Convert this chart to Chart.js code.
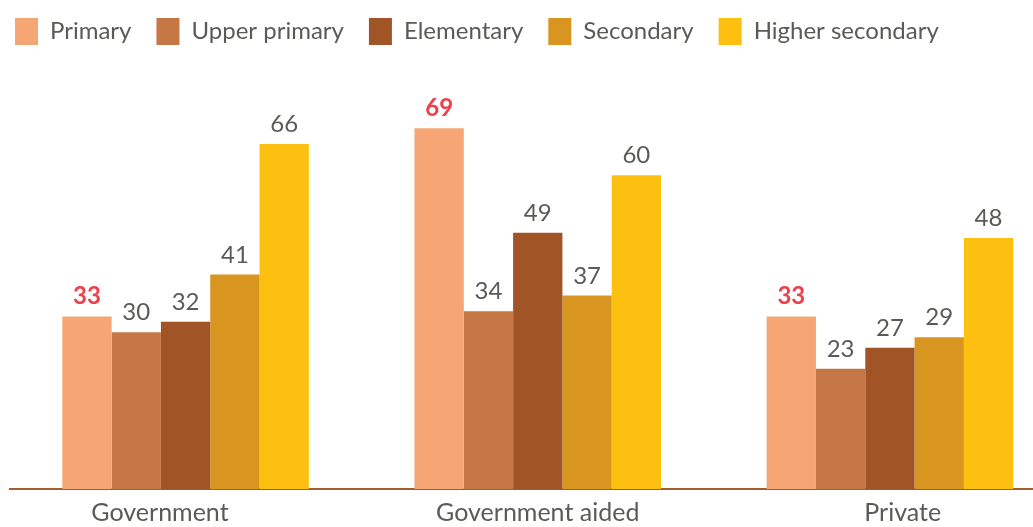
<!DOCTYPE html>
<html>
<head>
<meta charset="utf-8">
<script src="https://cdn.jsdelivr.net/npm/chart.js@4.4.1/dist/chart.umd.min.js"></script>
<style>
    html, body { margin: 0; padding: 0; background: #fff; overflow: hidden; }
    #wrap { position: relative; width: 1033px; height: 527px; overflow: hidden; }
    #chart { position: absolute; left: -10px; top: -7px; }
</style>
</head>
<body>
<div id="wrap"><canvas id="chart" width="1076" height="544"></canvas></div>
<script>
const categories = ['Government', 'Government aided', 'Private'];
const primary = [33, 69, 33];
const upperPrimary = [30, 34, 23];
const elementary = [32, 49, 27];
const secondary = [41, 37, 29];
const higherSecondary = [66, 60, 48];

const textColor = '#5a5a57';
const highlightColor = '#ef3f4a';

// value above every bar, the first series in bold red
const barValues = {
    id: 'barValues',
    afterDatasetsDraw(chart) {
        const ctx = chart.ctx;
        ctx.save();
        ctx.textAlign = 'center';
        ctx.textBaseline = 'alphabetic';
        chart.data.datasets.forEach((ds, i) => {
            const meta = chart.getDatasetMeta(i);
            if (meta.hidden) return;
            ctx.font = (i === 0 ? 'bold ' : '') + '24px Lato';
            ctx.fillStyle = i === 0 ? highlightColor : textColor;
            meta.data.forEach((bar, j) => {
                ctx.fillText(ds.data[j], bar.x, bar.y - 12);
            });
        });
        ctx.restore();
    }
};

// nudges for the category names, in spaces
const labelShift = [-8, 0, 4];

new Chart(document.getElementById('chart'), {
    type: 'bar',
    data: {
        labels: categories,
        datasets: [
            {label: 'Primary', data: primary, backgroundColor: '#f5a674'},
            {label: 'Upper primary', data: upperPrimary, backgroundColor: '#c57745'},
            {label: 'Elementary', data: elementary, backgroundColor: '#a15426'},
            {label: 'Secondary', data: secondary, backgroundColor: '#d89520'},
            {label: 'Higher secondary', data: higherSecondary, backgroundColor: '#fdc010'}
        ]
    },
    options: {
        responsive: false,
        animation: false,
        devicePixelRatio: 1,
        datasets: {bar: {categoryPercentage: 0.7, barPercentage: 1.0}},
        layout: {padding: 0},
        scales: {
            x: {
                grid: {display: false, drawTicks: false},
                border: {display: true, color: '#a55d2d', width: 2},
                ticks: {
                    padding: 9,
                    color: textColor,
                    font: {family: 'Lato', size: 25},
                    callback: (value, i) => {
                        const n = labelShift[i];
                        const pad = '\u00a0'.repeat(Math.abs(n));
                        return n < 0 ? categories[i] + pad : pad + categories[i];
                    }
                }
            },
            y: {
                min: 0,
                max: 83,
                grid: {display: false, drawTicks: false},
                border: {display: false},
                ticks: {display: false},
                afterFit: scale => { scale.width = 19.5; }
            }
        },
        plugins: {
            legend: {
                position: 'top',
                align: 'start',
                labels: {
                    boxWidth: 23,
                    boxHeight: 27,
                    padding: 25,
                    color: textColor,
                    font: {family: 'Lato', size: 24}
                }
            },
            tooltip: {enabled: false}
        }
    },
    plugins: [barValues]
});
</script>
</body>
</html>
